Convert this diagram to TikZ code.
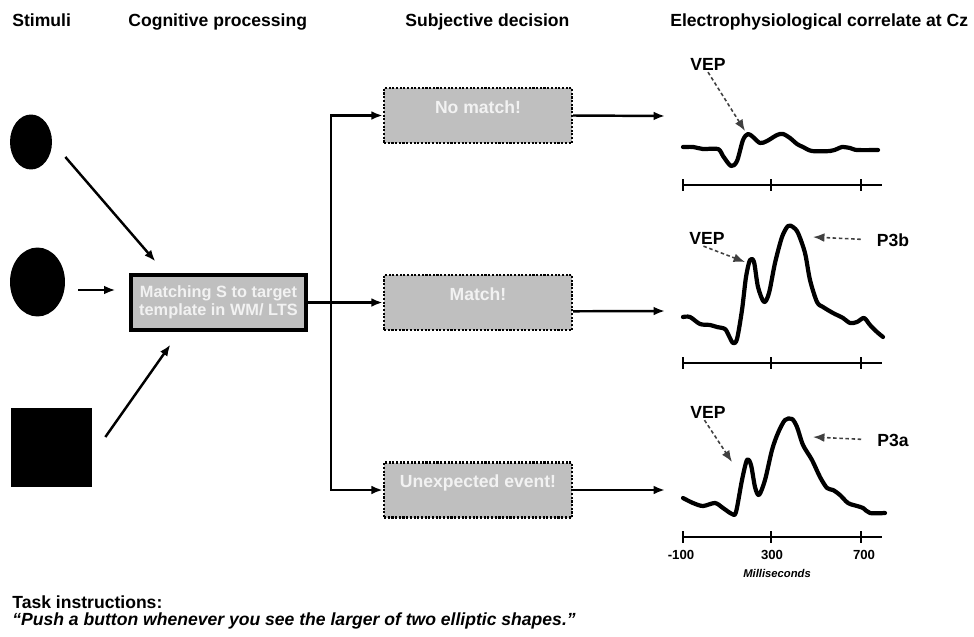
\documentclass[tikz,border=0pt]{standalone}
\usepackage{fontspec}
\setmainfont{Liberation Sans}
\usepackage{xcolor}
\usetikzlibrary{shapes,arrows,positioning,calc,arrows.meta}

\definecolor{boxgray}{HTML}{BFBFBF}
\definecolor{boxtext}{HTML}{F2F2F2}

\tikzset{
  heading/.style={font=\fontsize{10}{12}\selectfont\bfseries, anchor=base west, inner sep=0pt},
  stimdot/.style={ellipse, fill=black, inner sep=0pt},
  stimsq/.style={rectangle, fill=black, inner sep=0pt},
  procbox/.style={draw, line width=1.8pt, fill=boxgray, text=boxtext, align=center,
    font=\fontsize{9.3}{10.2}\selectfont\bfseries, minimum width=3.5cm, minimum height=1.1cm, inner sep=1pt},
  decbox/.style={draw, line width=1.4pt, dash pattern=on 1.2pt off 0.9pt, fill=boxgray, text=boxtext,
    font=\fontsize{10}{12}\selectfont\bfseries, minimum width=3.76cm, minimum height=1.1cm,
    inner ysep=3pt, text height=11.4pt, text depth=13.8pt},
  arr/.style={->, line width=1.4pt},
  wave/.style={line width=2.4pt, line join=round, line cap=round},
  axisline/.style={line width=1pt},
  peaklabel/.style={font=\fontsize{10}{12}\selectfont\bfseries, inner sep=1pt},
  peakarr/.style={->, black!75, line width=0.9pt, dash pattern=on 2pt off 1.5pt},
  ticklabel/.style={font=\fontsize{7.5}{9}\selectfont\bfseries, inner sep=1pt}
}

\begin{document}
\begin{tikzpicture}[x=0.02cm, y=-0.02cm, >={Latex[length=6.5pt,width=5pt]}]
    \useasboundingbox (0,0) rectangle (974,636);

    % Headings
    \node[heading] (hstim) at (12,26) {Stimuli};
    \node[heading] (hcog) at (128,26) {Cognitive processing};
    \node[heading] (hdec) at (405,26) {Subjective decision};
    \node[heading] (hcz) at (670,26) {Electrophysiological correlate at Cz};

    % Stimuli
    \node[stimdot, minimum width=0.84cm, minimum height=1.1cm] (s1) at (31,142) {};
    \node[stimdot, minimum width=1.1cm, minimum height=1.38cm] (s2) at (37.5,282) {};
    \node[stimsq, minimum width=1.62cm, minimum height=1.58cm] (s3) at (51.5,447.5) {};

    % Matching
    \node[procbox] (match) at (218.5,302.5) {Matching S to target\\template in WM/ LTS};
    \draw[arr] ([shift={(13,15)}]s1.east) -- ([shift={(26,-12)}]match.north west);
    \draw[arr] ([shift={(13,8)}]s2.east) -- ([shift={(-14,-12.5)}]match.west);
    \draw[arr] ([shift={(13,-10.5)}]s3.east) -- ([shift={(41,13)}]match.south west);

    % Decisions
    \node[decbox] (dno) at (478,115.5) {No match!};
    \node[decbox] (dmatch) at (478,302.5) {Match!};
    \node[decbox] (dunexp) at (478,490) {Unexpected event!};
    \coordinate (fork) at (match.east -| 331,0);
    \draw[arr] (match.east) -- (dmatch.west);
    \draw[arr] (fork) |- (dno.west);
    \draw[arr] (fork) |- (dunexp.west);

    % Outputs
    \coordinate (wave1) at (665,116);
    \coordinate (wave2) at (665,311);
    \coordinate (wave3) at (665,490);
    \draw[arr] (dno.east) -- (wave1);
    \draw[arr] ([yshift=-5pt]dmatch.east) -- (wave2);
    \draw[arr] (dunexp.east) -- (wave3);

    % Time axes
    \foreach \ay in {185,363,537} {
        \draw[axisline] (683,\ay) -- (882,\ay);
        \foreach \ax in {683,771,861}
            \draw[axisline] (\ax,\ay-6) -- (\ax,\ay+6);
    }
    \node[ticklabel] (t1) at (681,555) {-100};
    \node[ticklabel] (t2) at (772,555) {300};
    \node[ticklabel] (t3) at (864,555) {700};
    \node[font=\fontsize{6.4}{8}\selectfont\bfseries\itshape, inner sep=1pt] (ms) at (777,573) {Milliseconds};

    % Waveforms
    \draw[wave] plot[smooth, tension=0.5] coordinates {(683,147) (693,147) (703,149) (718,149) (723,156) (731,166) (737,161) (743,140) (748,134) (753,137) (760,143) (767,141) (777,135) (783,134) (790,138) (797,144) (803,147) (812,151) (830,151) (837,149) (842,147) (850,148) (857,150) (878,150)};
    \draw[wave] plot[smooth, tension=0.5] coordinates {(683,317) (690,317) (700,324) (710,325) (717,327) (725,329) (729,336) (733,343) (737,339) (742,310) (746,277) (750,260) (754,262) (758,287) (764,302) (769,293) (775,263) (782,237) (788,226) (793,227) (798,233) (805,253) (810,280) (817,302) (823,307) (833,313) (843,318) (850,323) (857,322) (864,318) (870,325) (877,332) (883,337)};
    \draw[wave] plot[smooth, tension=0.5] coordinates {(683,498) (693,503) (703,506) (715,503) (723,508) (732,514) (736,512) (742,480) (747,460) (751,465) (755,487) (759,495) (765,480) (772,450) (778,433) (785,420) (792,419) (797,427) (803,445) (812,460) (820,477) (827,488) (833,490) (840,495) (848,503) (857,506) (863,508) (870,513) (885,513)};

    % Peaks
    \node[peaklabel] (vep1) at (708,64) {VEP};
    \node[peaklabel] (vep2) at (707,238) {VEP};
    \node[peaklabel] (vep3) at (708,412) {VEP};
    \node[peaklabel] (p3b) at (893,240) {P3b};
    \node[peaklabel] (p3a) at (893,440) {P3a};
    \coordinate (pk1) at (745,131);
    \coordinate (pk2) at (745,262);
    \coordinate (pk3) at (732,462);
    \coordinate (pk4) at (813,237);
    \coordinate (pk5) at (813,437);
    \draw[peakarr] (vep1.south) -- (pk1);
    \draw[peakarr] ([xshift=-2pt]vep2.south) -- (pk2);
    \draw[peakarr] ([xshift=-2pt]vep3.south) -- (pk3);
    \draw[peakarr, shorten <=8pt] (p3b.west) -- (pk4);
    \draw[peakarr, shorten <=8pt] (p3a.west) -- (pk5);

    % Task
    \node[heading, anchor=west] (task) at (12,602) {Task instructions:};
    \node[heading, anchor=west, font=\fontsize{10}{12}\selectfont\bfseries\itshape] (instr) at (12,621) {“Push a button whenever you see the larger of two elliptic shapes.”};
\end{tikzpicture}
\end{document}
